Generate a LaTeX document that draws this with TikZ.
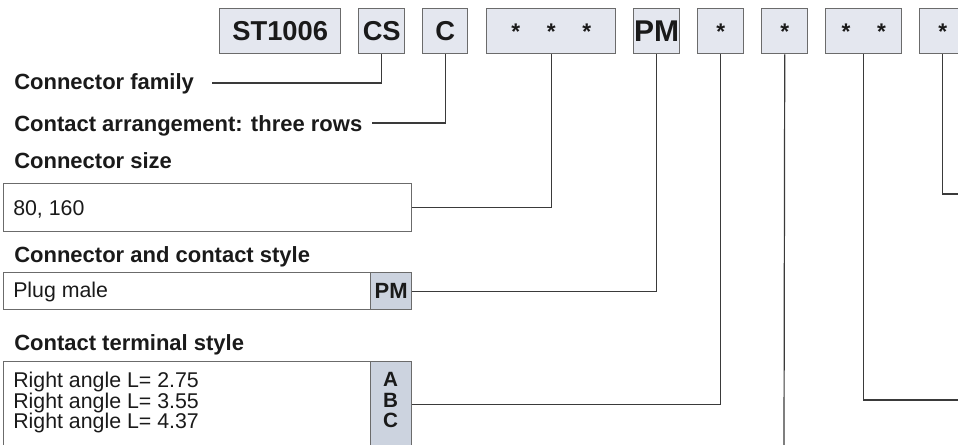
\documentclass[tikz,border=0pt]{standalone}
\usepackage{fontspec}
\setmainfont{Liberation Sans}
\definecolor{topfill}{HTML}{E4E7EF}
\definecolor{shade}{HTML}{CCD3DF}
\definecolor{bordergray}{HTML}{6B6B6B}
\definecolor{linecol}{HTML}{3A3A3A}
\definecolor{txt}{HTML}{1A1A1A}
\tikzset{
  topbox/.style={draw=bordergray, fill=topfill, line width=1.1pt, anchor=north west,
    minimum height=33.75pt, inner sep=0pt, text=txt, font=\fontsize{20.5}{24}\selectfont\bfseries},
  starbox/.style={topbox, font=\fontsize{17}{20}\selectfont\bfseries},
  lbox/.style={draw=bordergray, line width=0.9pt, anchor=north west, inner sep=0pt},
  tabbox/.style={lbox, fill=shade, text=txt, font=\fontsize{16.5}{19}\selectfont\bfseries},
  lbl/.style={anchor=base west, inner sep=0pt, text=txt, font=\fontsize{16.5}{20}\selectfont\bfseries},
  val/.style={anchor=base west, inner sep=0pt, text=txt, font=\fontsize{16}{15.4}\selectfont},
  conn/.style={draw=linecol, line width=0.9pt},
}
\newcommand{\stargl}{\raisebox{-0.22em}{*}}
\begin{document}
\begin{tikzpicture}[x=0.75pt,y=-0.75pt]
\path[use as bounding box] (0,0) rectangle (958,444);
\clip (0,0) rectangle (958,444);

% top code boxes
\node[topbox, minimum width=90.75pt] (st) at (219,8) {ST1006};
\node[topbox, minimum width=34.5pt] (cs) at (358,8) {CS};
\node[topbox, minimum width=33.75pt] (c) at (422,8) {C};
\node[starbox, minimum width=96.75pt] (sz) at (486,8) {\stargl\hspace{20pt}\stargl\hspace{20pt}\stargl};
\node[topbox, minimum width=34.5pt, font=\fontsize{22.5}{26}\selectfont\bfseries] (pm) at (633,8) {PM};
\node[starbox, minimum width=34.5pt] (t) at (697,8) {\stargl};
\node[starbox, minimum width=34.5pt] (u) at (761,8) {\stargl};
\node[starbox, minimum width=57pt] (v) at (825,8) {\stargl\hspace{20pt}\stargl};
\node[starbox, minimum width=34.5pt] (w) at (919,8) {\stargl};

% labels
\node[lbl] (fam) at (14,89) {Connector family};
\node[lbl] (arr) at (14,131) {Contact arrangement: three rows};
\node[lbl] (szl) at (14,168) {Connector size};
\node[lbl] (stl) at (14,262) {Connector and contact style};
\node[lbl] (tml) at (14,350) {Contact terminal style};

% left boxes
\node[lbox, minimum width=306pt, minimum height=36pt] (szbox) at (3,183) {};
\node[val] (sztxt) at (13,215) {80, 160};

\node[lbox, minimum width=306pt, minimum height=27.75pt] (stbox) at (3,272) {};
\node[tabbox, minimum width=30.75pt, minimum height=27.75pt] (pmtab) at (370,272) {PM};
\node[val] (plug) at (13,297) {Plug male};

\node[lbox, minimum width=306pt, minimum height=63.75pt] (tmbox) at (3,361) {};
\node[tabbox, minimum width=30.75pt, minimum height=63.75pt] (abctab) at (370,361) {};
\node[anchor=north, inner sep=0pt, align=center, text=txt, font=\fontsize{15.5}{15.4}\selectfont\bfseries] (abc) at (390.5,372) {A\\B\\C};
\node[anchor=north west, inner sep=0pt, align=left, text=txt, font=\fontsize{16}{15.4}\selectfont] (terms) at (13,372) {Right angle L= 2.75\\Right angle L= 3.55\\Right angle L= 4.37};

% free ends
\coordinate (famend) at (212,83);
\coordinate (arrend) at (372,123);
\coordinate (uend) at (784,448);
\coordinate (vend) at (962,400);
\coordinate (wend) at (962,194);

% connectors
\draw[conn] (cs.south) |- (famend);
\draw[conn] (c.south) |- (arrend);
\draw[conn] (sz.south) |- (szbox.east);
\draw[conn] (pm.south) |- (pmtab.east);
\draw[conn] (t.south) |- (abctab.east);
\draw[conn] (u.south) -- (uend);
\draw[conn] (v.south) |- (vend);
\draw[conn] (w.south) |- (wend);
\end{tikzpicture}
\end{document}
